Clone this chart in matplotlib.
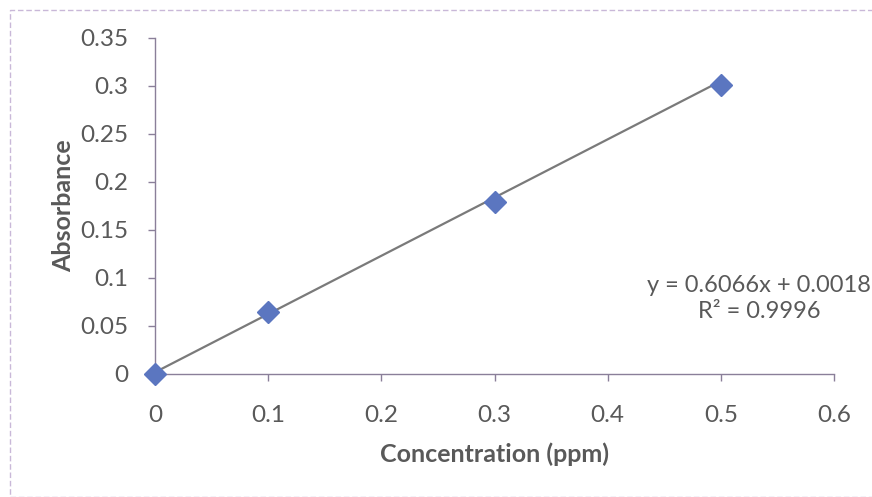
import matplotlib
matplotlib.use("Agg")
import matplotlib.pyplot as plt
from matplotlib.patches import Rectangle
import numpy as np

conc = [0.0, 0.1, 0.3, 0.5]
absorb = [0.0, 0.065, 0.179, 0.301]
slope = 0.6066
intercept = 0.0018
r2 = 0.9996
xticks = [0, 0.1, 0.2, 0.3, 0.4, 0.5, 0.6]
yticks = [0, 0.05, 0.1, 0.15, 0.2, 0.25, 0.3, 0.35]
xticklabels = ["0", "0.1", "0.2", "0.3", "0.4", "0.5", "0.6"]
yticklabels = ["0", "0.05", "0.1", "0.15", "0.2", "0.25", "0.3", "0.35"]

plt.rcParams['font.family'] = ['Lato', 'DejaVu Sans']
txt = '#595959'
axc = '#8a7f99'

fig = plt.figure(figsize=(8.72, 4.97), dpi=100)
ax = fig.add_axes([155/872, 1-374/497, (834-155)/872, (374-38)/497])

xfit = np.array([min(conc), max(conc)])
ax.plot(xfit, slope*xfit + intercept, color='#7a7a7a', lw=1.6, zorder=2)
ax.plot(conc, absorb, linestyle='none', marker='D', markersize=11,
        color='#5b76c0', zorder=3, clip_on=False)

ax.set_xlim(0, 0.6)
ax.set_ylim(0, 0.35)
ax.set_xticks(xticks)
ax.set_xticklabels(xticklabels)
ax.set_yticks(yticks)
ax.set_yticklabels(yticklabels)
for s in ['top', 'right']:
    ax.spines[s].set_visible(False)
for s in ['left', 'bottom']:
    ax.spines[s].set_color(axc)
    ax.spines[s].set_linewidth(1.0)
ax.tick_params(axis='both', colors=axc, labelcolor=txt, labelsize=17.5,
               length=5, width=1.0, direction='out')
ax.tick_params(axis='x', pad=17)
ax.tick_params(axis='y', pad=14)

ax.set_xlabel('Concentration (ppm)', fontsize=18, fontweight='bold', color=txt, labelpad=12)
ax.set_ylabel('Absorbance', fontsize=18, fontweight='bold', color=txt, labelpad=4)

fig.text(759/872, 1-285/497, f'y = {slope}x + {intercept}', fontsize=17, color=txt,
         ha='center', va='center')
fig.text(759/872, 1-312/497, f'R² = {r2}', fontsize=17, color=txt,
         ha='center', va='center')

fig.patches.append(Rectangle((10/872, 0), 1.2, 1-10/497, transform=fig.transFigure,
                             fill=False, edgecolor='#c9b8d8', lw=1.0, linestyle=(0, (4, 2))))

fig.savefig('out.png', dpi=100)
